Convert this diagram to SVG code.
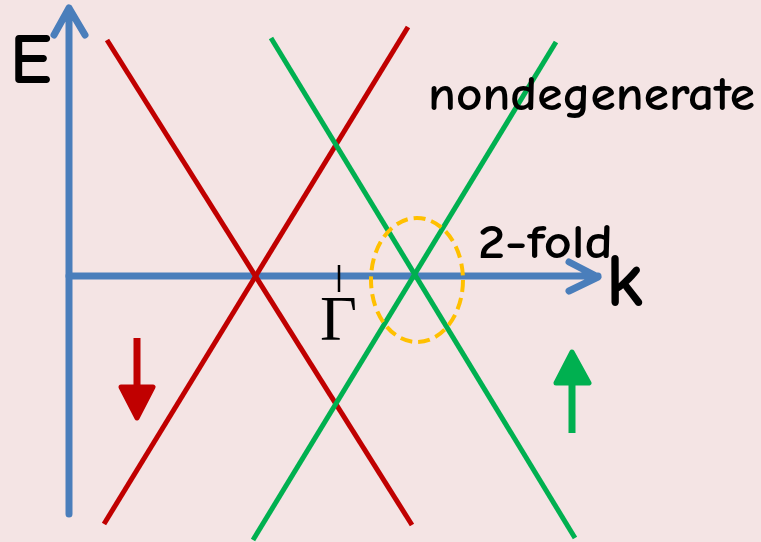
<svg xmlns="http://www.w3.org/2000/svg" width="761" height="542" viewBox="0 0 761 542">
<style>
.ax{stroke:#4A7EBB;stroke-width:7;fill:none;stroke-linecap:round;stroke-linejoin:round}
.red{stroke:#C00000;stroke-width:5;fill:none}
.grn{stroke:#00B050;stroke-width:5;fill:none}
.lbl{font-family:"Comic Neue","DejaVu Sans","Liberation Sans",sans-serif;fill:#000}
</style>
<rect width="761" height="542" fill="#F4E4E4"/>
<g id="axes">
<path class="ax" d="M69,514 V8 M54,35 L69,8 L85,35"/>
<path class="ax" d="M69,276 H598 M569,262 L598,277 L569,291"/>
</g>
<g id="bands">
<line class="red" x1="107" y1="40" x2="412" y2="525"/>
<line class="red" x1="408" y1="27" x2="104" y2="524"/>
<line class="grn" x1="271" y1="38" x2="575" y2="538"/>
<line class="grn" x1="556" y1="42" x2="253" y2="540"/>
</g>
<g id="degeneracy">
<ellipse cx="417" cy="280" rx="46" ry="62" fill="none" stroke="#FFC000" stroke-width="4" stroke-dasharray="12 6"/>
</g>
<g id="gamma">
<line x1="339" y1="265" x2="339" y2="292" stroke="#000" stroke-width="2.5"/>
<text x="320" y="340" font-family="Liberation Serif,serif" font-size="64">Γ</text>
</g>
<g id="spin-down">
<path d="M137,338 V400" stroke="#C00000" stroke-width="7" fill="none"/>
<path d="M121,387 L137,418 L153,387 Z" fill="#C00000" stroke="#C00000" stroke-width="5" stroke-linejoin="round"/>
</g>
<g id="spin-up">
<path d="M572,433 V370" stroke="#00B050" stroke-width="7" fill="none"/>
<path d="M556,383 L572,352 L589,383 Z" fill="#00B050" stroke="#00B050" stroke-width="5" stroke-linejoin="round"/>
</g>
<g id="labels">
<text class="lbl" x="10" y="83" font-size="70" font-weight="bold">E</text>
<text class="lbl" x="606" y="306" font-size="76" font-weight="bold">k</text>
<text class="lbl" x="428" y="110" font-size="48" font-weight="bold" textLength="327" lengthAdjust="spacingAndGlyphs">nondegenerate</text>
<text class="lbl" x="478" y="258" font-size="48" font-weight="bold" textLength="135" lengthAdjust="spacingAndGlyphs">2-fold</text>
</g>
</svg>
